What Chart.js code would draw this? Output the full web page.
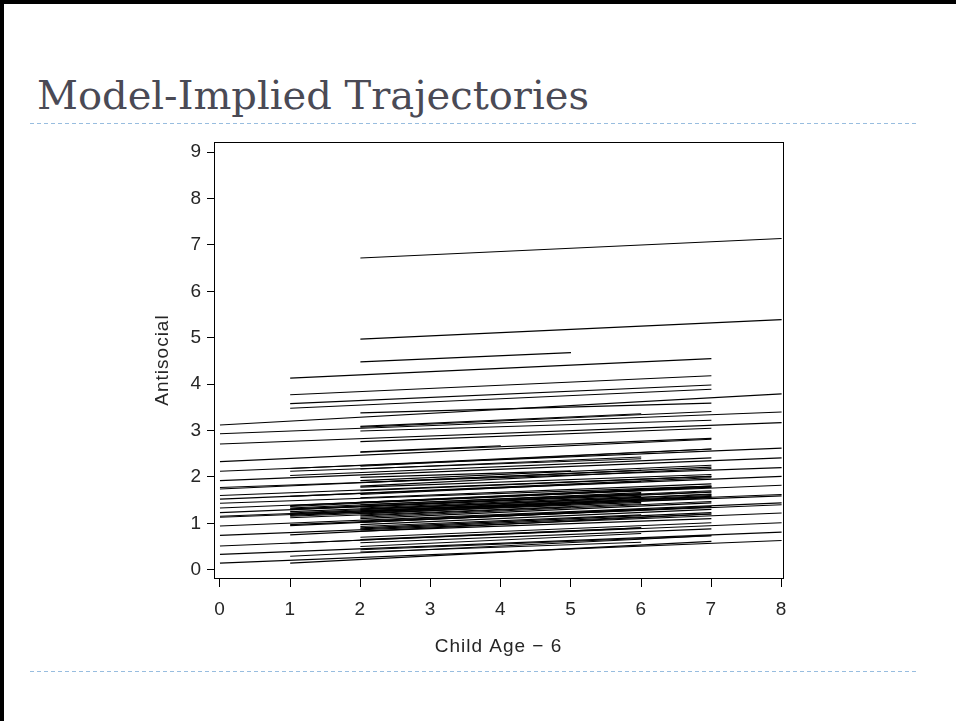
<!DOCTYPE html>
<html>
<head>
<meta charset="utf-8">
<title>Model-Implied Trajectories</title>
<script src="https://cdn.jsdelivr.net/npm/chart.js@4.4.1/dist/chart.umd.min.js"></script>
<style>
  html, body { margin: 0; padding: 0; background: #fff; }
  #slide { position: relative; width: 956px; height: 721px; overflow: hidden; background: #fff; }
  #edgeLeft { position: absolute; left: 0; top: 0; width: 4px; height: 721px; background: #000; }
  #edgeTop { position: absolute; left: 0; top: 0; width: 956px; height: 4px; background: #000; }
  #title {
    position: absolute; left: 37px; top: 75px; margin: 0;
    font-family: "DejaVu Serif", "Liberation Serif", serif; font-weight: normal;
    font-size: 40px; line-height: 40px; color: #4a4a55; white-space: nowrap;
  }
  .rule {
    position: absolute; left: 30px; width: 888px; height: 1px;
    background: repeating-linear-gradient(to right, #98bddf 0 4px, transparent 4px 7px);
  }
  #chart { position: absolute; left: 0; top: 0; }
</style>
</head>
<body>
<div id="slide">
  <div id="edgeLeft"></div>
  <div id="edgeTop"></div>
  <h1 id="title">Model-Implied Trajectories</h1>
  <div class="rule" style="top:123px"></div>
  <div class="rule" style="top:671px"></div>
  <canvas id="chart" width="956" height="721"></canvas>
</div>
<script>
// Each trajectory: observed age span (Child Age - 6) and model-implied antisocial score at its ends
const startAge   = [0,0,0,0,0,0,0,0,0,0,0,0,0,0,0,0,0,0,0,0,
                    1,1,1,1,1,1,1,1,1,1,1,1,1,1,1,1,1,1,1,1,1,1,1,1,1,
                    2,2,2,2,2,2,2,2,2,2,2,2,2,2,2,2,2,2,2,2,2,2,2,2,2,2,2,2,2,2,2,2,2,2,2,
                    2,2,2,2,2,2,2,2,2,2];
const endAge     = [8,8,8,7,8,8,8,7,7,8,7,8,7,8,8,8,8,8,8,8,
                    7,7,7,7,7,6,7,7,7,6,7,6,7,6,8,7,7,6,7,7,7,6,7,7,6,
                    8,8,5,7,6,7,7,7,4,7,7,6,5,7,7,6,7,6,7,7,6,7,5,7,6,7,6,7,7,7,6,7,6,7,6,
                    7,6,7,5,7,7,7,7,6,7];
const startScore = [3.12,2.93,2.71,2.33,2.12,1.92,1.77,1.74,1.60,1.52,1.43,1.33,1.23,1.15,1.13,0.94,0.74,0.51,0.33,0.14,
                    4.13,3.77,3.58,3.48,2.18,2.12,2.03,1.58,1.38,1.33,1.29,1.25,1.20,1.15,0.97,0.95,0.75,0.57,0.29,0.14,
                    1.36,1.31,1.22,1.17,1.12,
                    6.72,4.97,4.48,3.38,3.09,3.07,2.99,2.76,2.54,2.53,2.23,2.17,1.99,1.80,1.78,1.62,1.55,1.40,1.36,1.30,
                    1.25,1.20,1.16,1.10,1.05,0.97,0.93,0.88,0.83,0.70,0.65,0.58,0.50,0.43,0.38,
                    1.45,1.33,1.27,1.22,1.13,1.02,0.90,1.70,1.88,1.92];
const endScore   = [3.79,3.40,3.17,2.81,2.62,2.41,2.20,2.21,2.01,2.01,1.80,1.82,1.67,1.62,1.59,1.44,1.22,1.01,0.81,0.63,
                    4.55,4.18,3.98,3.89,2.60,2.39,2.41,1.98,1.80,1.66,1.70,1.55,1.58,1.45,1.40,1.36,1.20,0.90,0.73,0.61,
                    1.78,1.62,1.63,1.57,1.42,
                    7.14,5.39,4.68,3.59,3.36,3.41,3.22,3.05,2.67,2.83,2.60,2.43,2.13,2.18,2.05,1.90,1.85,1.64,1.68,1.62,
                    1.50,1.55,1.35,1.44,1.30,1.30,1.18,1.20,1.10,1.01,0.90,0.88,0.78,0.73,0.59,
                    1.78,1.58,1.60,1.41,1.47,1.35,1.23,2.01,2.14,2.25];

const xTickValues = [0, 1, 2, 3, 4, 5, 6, 7, 8];
const yTickValues = [0, 1, 2, 3, 4, 5, 6, 7, 8, 9];
const xTitle = 'Child Age \u2212 6';
const yTitle = 'Antisocial';

const axisFont = { family: '"Liberation Sans", Arial, sans-serif', size: 19 };
const ink = '#262626';

const datasets = startAge.map((a, i) => ({
  data: [{ x: a, y: startScore[i] }, { x: endAge[i], y: endScore[i] }],
  borderColor: '#000',
  borderWidth: 1.1,
  pointRadius: 0,
  pointHoverRadius: 0,
  fill: false,
  tension: 0
}));

// slightly open lettering for the axis text
const textSpacing = {
  id: 'textSpacing',
  beforeInit(chart) { chart.ctx.letterSpacing = '1px'; },
  beforeDraw(chart) { chart.ctx.letterSpacing = '1px'; }
};

// box around the plotting area
const plotFrame = {
  id: 'plotFrame',
  afterDraw(chart) {
    const { ctx, chartArea: a } = chart;
    ctx.save();
    ctx.strokeStyle = '#000';
    ctx.lineWidth = 1;
    ctx.strokeRect(Math.round(a.left) + 0.5, Math.round(a.top) + 0.5,
                   Math.round(a.right - a.left), Math.round(a.bottom - a.top));
    ctx.restore();
  }
};

new Chart(document.getElementById('chart'), {
  type: 'line',
  data: { datasets },
  plugins: [textSpacing, plotFrame],
  options: {
    responsive: false,
    animation: false,
    events: [],
    layout: { padding: { left: 134, right: 173, top: 142, bottom: 43 } },
    plugins: { legend: { display: false }, tooltip: { enabled: false } },
    scales: {
      x: {
        type: 'linear',
        min: -0.085,
        max: 8.02,
        afterBuildTicks: s => { s.ticks = xTickValues.map(v => ({ value: v })); },
        afterFit: s => { s.height = 100; },
        grid: { drawOnChartArea: false, drawTicks: true, tickLength: 9, color: '#000', tickWidth: 1 },
        border: { display: true, color: '#000', width: 1 },
        ticks: { font: axisFont, color: ink, padding: 11, maxRotation: 0 },
        title: { display: true, text: xTitle, font: axisFont, color: ink, padding: { top: 0, bottom: 20 } }
      },
      y: {
        type: 'linear',
        min: -0.18,
        max: 9.22,
        afterBuildTicks: s => { s.ticks = yTickValues.map(v => ({ value: v })); },
        afterFit: s => { s.width = 80; },
        grid: { drawOnChartArea: false, drawTicks: true, tickLength: 7, color: '#000', tickWidth: 1 },
        border: { display: true, color: '#000', width: 1 },
        ticks: { font: axisFont, color: ink, padding: 5 },
        title: { display: true, text: yTitle, font: axisFont, color: ink, padding: { top: 17, bottom: 0 } }
      }
    }
  }
});
</script>
</body>
</html>
